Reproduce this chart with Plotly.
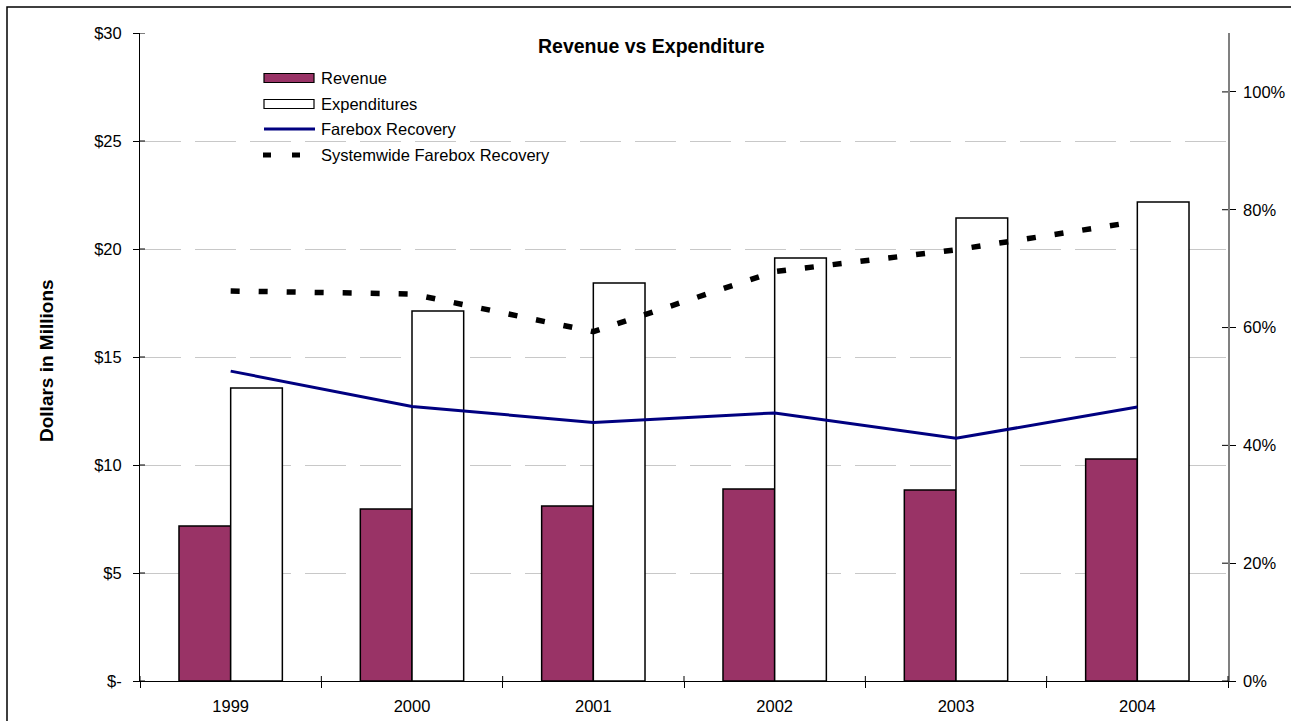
import plotly.graph_objects as go

# ---- data ----
years = ["1999", "2000", "2001", "2002", "2003", "2004"]
revenue = [7.18, 7.96, 8.10, 8.89, 8.84, 10.28]          # $ millions
expenditures = [13.56, 17.13, 18.43, 19.58, 21.44, 22.18]  # $ millions
farebox = [0.526, 0.466, 0.439, 0.455, 0.412, 0.465]       # share
systemwide = [0.662, 0.657, 0.593, 0.695, 0.732, 0.780]    # share

left_ticks = [0, 5, 10, 15, 20, 25, 30]
left_labels = ["$-", "$5", "$10", "$15", "$20", "$25", "$30"]
right_ticks = [0, 0.2, 0.4, 0.6, 0.8, 1.0]
right_labels = ["0%", "20%", "40%", "60%", "80%", "100%"]

W, H = 1291, 721
L, R, T, B = 140, 63, 33, 40
PW, PH = W - L - R, H - T - B
FONT = "Liberation Sans, Arial, sans-serif"
FS = 16.5


def px_x(x):
    return (x - L) / PW


def px_y(y):
    return (H - B - y) / PH


fig = go.Figure()
fig.add_trace(go.Bar(x=years, y=revenue, name="Revenue",
                     marker=dict(color="#993366", line=dict(color="black", width=1.5))))
fig.add_trace(go.Bar(x=years, y=expenditures, name="Expenditures",
                     marker=dict(color="white", line=dict(color="black", width=1.5))))
fig.add_trace(go.Scatter(x=years, y=farebox, name="Farebox Recovery", yaxis="y2",
                         mode="lines", line=dict(color="#000080", width=3)))
fig.add_trace(go.Scatter(x=years, y=systemwide, name="Systemwide Farebox Recovery", yaxis="y2",
                         mode="lines", line=dict(color="black", width=5.5, dash="9px,19px")))

shapes = []
annotations = []

# outer frame
shapes.append(dict(type="rect", xref="paper", yref="paper",
                   x0=px_x(7), x1=px_x(W + 10), y0=px_y(H + 10), y1=px_y(7),
                   line=dict(color="black", width=1.5), fillcolor="rgba(0,0,0,0)", layer="below"))

# inward halves of the crossing tick marks
for v in left_ticks:
    shapes.append(dict(type="line", xref="paper", yref="y", x0=0, x1=px_x(L + 5), y0=v, y1=v,
                       line=dict(color="black", width=1)))
for v in right_ticks:
    shapes.append(dict(type="line", xref="paper", yref="y2", x0=px_x(L + PW - 6), x1=1, y0=v, y1=v,
                       line=dict(color="black", width=1)))
for i in range(len(years) + 1):
    xb = i / len(years)
    shapes.append(dict(type="line", xref="paper", yref="paper", x0=xb, x1=xb, y0=0, y1=px_y(H - B - 5),
                       line=dict(color="black", width=1)))

# legend
leg_x0, leg_x1, txt_x = 264, 314, 319
rows = [78, 104, 129, 155]
shapes.append(dict(type="rect", xref="paper", yref="paper", x0=px_x(leg_x0), x1=px_x(leg_x1),
                   y0=px_y(rows[0] + 4.5), y1=px_y(rows[0] - 4.5),
                   fillcolor="#993366", line=dict(color="black", width=1.2)))
shapes.append(dict(type="rect", xref="paper", yref="paper", x0=px_x(leg_x0), x1=px_x(leg_x1),
                   y0=px_y(rows[1] + 4.5), y1=px_y(rows[1] - 4.5),
                   fillcolor="white", line=dict(color="black", width=1.2)))
shapes.append(dict(type="line", xref="paper", yref="paper", x0=px_x(leg_x0), x1=px_x(leg_x1 + 1),
                   y0=px_y(rows[2]), y1=px_y(rows[2]), line=dict(color="#000080", width=3)))
for a, b in [(263, 271), (292, 300)]:
    shapes.append(dict(type="line", xref="paper", yref="paper", x0=px_x(a), x1=px_x(b),
                       y0=px_y(rows[3]), y1=px_y(rows[3]), line=dict(color="black", width=5)))
for name, y in zip(["Revenue", "Expenditures", "Farebox Recovery", "Systemwide Farebox Recovery"], rows):
    annotations.append(dict(text=name, xref="paper", yref="paper", x=px_x(txt_x), y=px_y(y),
                            xanchor="left", yanchor="middle", showarrow=False,
                            font=dict(family=FONT, size=FS, color="black")))

# title and axis title
annotations.append(dict(text="<b>Revenue vs Expenditure</b>", xref="paper", yref="paper",
                        x=px_x(651), y=px_y(46), xanchor="center", yanchor="middle", showarrow=False,
                        font=dict(family=FONT, size=19.5, color="black")))
annotations.append(dict(text="<b>Dollars in Millions</b>", xref="paper", yref="paper",
                        x=px_x(46), y=px_y(361), xanchor="center", yanchor="middle", showarrow=False,
                        textangle=-90, font=dict(family=FONT, size=19, color="black")))

fig.update_layout(
    width=W, height=H,
    margin=dict(l=L, r=R, t=T, b=B, pad=0, autoexpand=False),
    paper_bgcolor="white", plot_bgcolor="white",
    barmode="group", bargap=0.43, bargroupgap=0,
    showlegend=False,
    font=dict(family=FONT, size=FS, color="black"),
    xaxis=dict(type="category", showline=True, linecolor="black", linewidth=1,
               ticks="outside", tickson="boundaries", ticklen=6, tickcolor="black",
               showgrid=False, tickfont=dict(size=FS), ticklabelstandoff=10, automargin=False),
    yaxis=dict(range=[0, 30], tickvals=left_ticks, ticktext=left_labels,
               showline=True, linecolor="black", linewidth=1,
               ticks="outside", ticklen=6, tickcolor="black",
               showgrid=True, gridcolor="#c8c8c8", gridwidth=1, griddash="41px,14px",
               zeroline=False, tickfont=dict(size=FS), ticklabelstandoff=8, automargin=False),
    yaxis2=dict(range=[0, 1.1], tickvals=right_ticks, ticktext=right_labels,
                overlaying="y", side="right", showline=True, linecolor="#808080", linewidth=1.5,
                ticks="outside", ticklen=6, tickcolor="black", showgrid=False, zeroline=False,
                tickfont=dict(size=FS), ticklabelstandoff=4, automargin=False),
    shapes=shapes, annotations=annotations,
)

fig.write_html("out.html")
